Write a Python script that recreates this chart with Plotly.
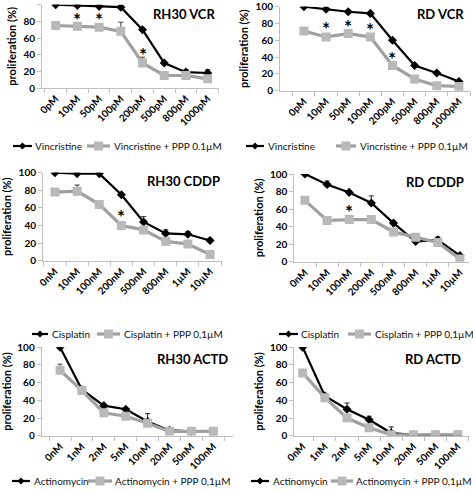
import plotly.graph_objects as go

W, H = 473, 491
FONT = "Lato"

# ---------------- data ----------------
vcr_x = ["0pM", "10pM", "50pM", "100pM", "200pM", "500pM", "800pM", "1000pM"]
cddp_x = ["0nM", "10nM", "100nM", "200nM", "500nM", "800nM", "1µM", "10µM"]
actd_x = ["0nM", "1nM", "2nM", "5nM", "10nM", "20nM", "50nM", "100nM"]

rh30_vcr_drug = [100, 99, 98, 97, 70, 30, 19, 18]
rh30_vcr_drug_err = [0, 1, 1, 1, 2, 2, 3, 4]
rh30_vcr_ppp = [75, 74, 73, 68, 30, 15, 15, 11]
rh30_vcr_ppp_err = [0, 2, 3, 11, 7, 2, 2, 2]
rh30_vcr_stars = ["10pM", "50pM", "200pM"]
rh30_vcr_star_y = [86, 86, 44]

rd_vcr_drug = [100, 97, 94, 92, 60, 30, 21, 11]
rd_vcr_drug_err = [0, 1, 1, 1, 2, 2, 2, 1]
rd_vcr_ppp = [71, 64, 68, 64, 30, 14, 6, 5]
rd_vcr_ppp_err = [0, 2, 2, 2, 2, 2, 1, 1]
rd_vcr_stars = ["10pM", "50pM", "100pM", "200pM"]
rd_vcr_star_y = [78, 80, 76, 42]

rh30_cddp_drug = [100, 99, 99, 75, 44, 31, 30, 23]
rh30_cddp_drug_err = [0, 1, 1, 1, 6, 4, 3, 2]
rh30_cddp_ppp = [78, 79, 64, 40, 35, 22, 19, 7]
rh30_cddp_ppp_err = [0, 7, 1, 1, 2, 1, 1, 1]
rh30_cddp_stars = ["200nM"]
rh30_cddp_star_y = [54]

rd_cddp_drug = [100, 88, 79, 67, 44, 23, 25, 7]
rd_cddp_drug_err = [0, 4, 1, 8, 2, 1, 3, 1]
rd_cddp_ppp = [70, 47, 48, 48, 34, 28, 22, 3]
rd_cddp_ppp_err = [0, 1, 1, 1, 1, 1, 1, 1]
rd_cddp_stars = ["100nM"]
rd_cddp_star_y = [61]

rh30_actd_drug = [100, 52, 34, 30, 16, 6, 5, 5]
rh30_actd_drug_err = [0, 1, 1, 1, 9, 2, 1, 1]
rh30_actd_ppp = [74, 51, 26, 22, 14, 5, 5, 5]
rh30_actd_ppp_err = [7, 1, 1, 1, 1, 1, 1, 1]

rd_actd_drug = [100, 45, 30, 18, 3, 1, 1, 1]
rd_actd_drug_err = [0, 1, 7, 4, 7, 0, 0, 0]
rd_actd_ppp = [71, 43, 20, 9, 1, 1, 1, 1]
rd_actd_ppp_err = [0, 1, 1, 1, 1, 0, 0, 0]

# ---------------- panel configuration (positions in px) ----------------
panels = [
    dict(title="RH30 VCR", cats=vcr_x, drug=rh30_vcr_drug, derr=rh30_vcr_drug_err,
         ppp=rh30_vcr_ppp, perr=rh30_vcr_ppp_err, stars=rh30_vcr_stars, star_y=rh30_vcr_star_y,
         name1="Vincristine", name2="Vincristine + PPP 0.1µM",
         xd=(42, 218.5), yd=(4.7, 88), xr=(-0.63, 7.5), tpos=(217, 14),
         leg=(13, 32, 33, 87, 110, 112, 146)),
    dict(title="RD VCR", cats=vcr_x, drug=rd_vcr_drug, derr=rd_vcr_drug_err,
         ppp=rd_vcr_ppp, perr=rd_vcr_ppp_err, stars=rd_vcr_stars, star_y=rd_vcr_star_y,
         name1="Vincristine", name2="Vincristine + PPP 0.1µM",
         xd=(280, 470), yd=(6.7, 90.7), xr=(-1.08, 7.5), tpos=(466, 14),
         leg=(246, 264, 266, 336, 356, 358, 146)),
    dict(title="RH30 CDDP", cats=cddp_x, drug=rh30_cddp_drug, derr=rh30_cddp_drug_err,
         ppp=rh30_cddp_ppp, perr=rh30_cddp_ppp_err, stars=rh30_cddp_stars, star_y=rh30_cddp_star_y,
         name1="Cisplatin", name2="Cisplatin + PPP 0,1µM",
         xd=(43, 222), yd=(172.7, 260.7), xr=(-0.54, 7.54), tpos=(222, 181),
         leg=(32, 48, 50, 97, 120, 122, 334)),
    dict(title="RD CDDP", cats=cddp_x, drug=rd_cddp_drug, derr=rd_cddp_drug_err,
         ppp=rd_cddp_ppp, perr=rd_cddp_ppp_err, stars=rd_cddp_stars, star_y=rd_cddp_star_y,
         name1="Cisplatin", name2="Cisplatin + PPP 0,1µM",
         xd=(294.3, 469), yd=(174, 261.7), xr=(-0.48, 7.41), tpos=(466, 182),
         leg=(279, 298, 299, 348, 371, 373, 334)),
    dict(title="RH30 ACTD", cats=actd_x, drug=rh30_actd_drug, derr=rh30_actd_drug_err,
         ppp=rh30_actd_ppp, perr=rh30_actd_ppp_err, stars=[], star_y=[],
         name1="Actinomycin", name2="Actinomycin + PPP 0,1µM",
         xd=(41.7, 233), yd=(347.3, 435.7), xr=(-0.84, 7.9), tpos=(230, 359),
         leg=(12, 30, 32, 88, 112, 113, 481)),
    dict(title="RD ACTD", cats=actd_x, drug=rd_actd_drug, derr=rd_actd_drug_err,
         ppp=rd_actd_ppp, perr=rd_actd_ppp_err, stars=[], star_y=[],
         name1="Actinomycin", name2="Actinomycin + PPP 0,1µM",
         xd=(294.3, 469), yd=(347.3, 435.7), xr=(-0.38, 7.51), tpos=(463, 359),
         leg=(251, 269, 271, 331, 353, 354, 481)),
]

BLACK = "#000000"
GRAY_LINE = "#a0a0a0"
GRAY_MARK = "#b9b9b9"
AXIS = "#bfbfbf"


def px(x):
    return x / W


def py(y):
    return 1 - y / H


fig = go.Figure()
layout = dict(
    width=W, height=H, margin=dict(l=0, r=0, t=0, b=0),
    paper_bgcolor="white", plot_bgcolor="white",
    font=dict(family=FONT, color="black"),
    annotations=[], shapes=[], showlegend=False,
)

for i, p in enumerate(panels):
    n = i + 1
    xa = "x" if n == 1 else f"x{n}"
    ya = "y" if n == 1 else f"y{n}"
    xkey = "xaxis" if n == 1 else f"xaxis{n}"
    ykey = "yaxis" if n == 1 else f"yaxis{n}"

    fig.add_trace(go.Scatter(
        x=p["cats"], y=p["drug"], xaxis=xa, yaxis=ya,
        name=p["name1"], mode="lines+markers",
        line=dict(color=BLACK, width=2.2),
        marker=dict(symbol="diamond", size=7, color=BLACK),
        error_y=dict(type="data", array=p["derr"], arrayminus=[0] * len(p["derr"]),
                     symmetric=False, color="#202020", thickness=1, width=2.5),
    ))
    fig.add_trace(go.Scatter(
        x=p["cats"], y=p["ppp"], xaxis=xa, yaxis=ya,
        name=p["name2"], mode="lines+markers",
        line=dict(color=GRAY_LINE, width=3.2),
        marker=dict(symbol="square", size=9, color=GRAY_MARK),
        error_y=dict(type="data", array=p["perr"], arrayminus=[0] * len(p["perr"]),
                     symmetric=False, color="#404040", thickness=1, width=2.5),
    ))

    layout[xkey] = dict(
        domain=[px(p["xd"][0]), px(p["xd"][1])], anchor=ya,
        type="category", categoryorder="array", categoryarray=p["cats"],
        range=list(p["xr"]), showline=True, linecolor=AXIS, linewidth=1,
        ticks="outside", tickson="boundaries", ticklen=4, tickcolor=AXIS,
        tickangle=-45, showgrid=False, zeroline=False, automargin=False,
        tickfont=dict(family=FONT, size=10, weight="bold", color="black"),
    )
    layout[ykey] = dict(
        domain=[py(p["yd"][1]), py(p["yd"][0])], anchor=xa,
        range=[0, 100], dtick=20, showline=True, linecolor=AXIS, linewidth=1,
        ticks="outside", ticklen=4, tickcolor=AXIS, showgrid=False, zeroline=False,
        automargin=False,
        tickfont=dict(family=FONT, size=10, weight="bold", color="black"),
        title=dict(text="proliferation (%)", standoff=4,
                   font=dict(family=FONT, size=11, weight="bold", color="black")),
    )
    layout["annotations"].append(dict(
        text=p["title"], xref="paper", yref="paper",
        x=px(p["tpos"][0]), y=py(p["tpos"][1]), xanchor="right", yanchor="middle",
        showarrow=False, font=dict(family=FONT, size=13, weight="bold", color="black"),
    ))
    for cx, cy in zip(p["stars"], p["star_y"]):
        layout["annotations"].append(dict(
            text="*", xref=xa, yref=ya, x=cx, y=cy, xanchor="center", yanchor="middle",
            yshift=-3, showarrow=False,
            font=dict(family=FONT, size=19, weight="bold", color="black"),
        ))

    # ---- manual legend ----
    b0, b1, t1, g0, g1, t2, ly = p["leg"]
    layout["shapes"].append(dict(type="line", xref="paper", yref="paper",
                                 x0=px(b0), x1=px(b1), y0=py(ly), y1=py(ly),
                                 line=dict(color=BLACK, width=2.2)))
    bm = (b0 + b1) / 2
    d = 3.5
    layout["shapes"].append(dict(
        type="path", xref="paper", yref="paper",
        path=f"M {px(bm - d)} {py(ly)} L {px(bm)} {py(ly - d)} L {px(bm + d)} {py(ly)} L {px(bm)} {py(ly + d)} Z",
        fillcolor=BLACK, line=dict(width=0)))
    layout["shapes"].append(dict(type="line", xref="paper", yref="paper",
                                 x0=px(g0), x1=px(g1), y0=py(ly), y1=py(ly),
                                 line=dict(color=GRAY_LINE, width=3.2)))
    gm = (g0 + g1) / 2
    s = 4.5
    layout["shapes"].append(dict(type="rect", xref="paper", yref="paper",
                                 x0=px(gm - s), x1=px(gm + s), y0=py(ly + s), y1=py(ly - s),
                                 fillcolor=GRAY_MARK, line=dict(width=0)))
    for tx, tt in ((t1, p["name1"]), (t2, p["name2"])):
        layout["annotations"].append(dict(
            text=tt, xref="paper", yref="paper", x=px(tx), y=py(ly),
            xanchor="left", yanchor="middle", showarrow=False,
            font=dict(family=FONT, size=10, color="#111111"),
        ))

fig.update_layout(**layout)
fig.write_html("out.html",
               config={"displayModeBar": False, "staticPlot": True},
               post_script="document.body.style.margin='0px';document.body.style.overflow='hidden';")
